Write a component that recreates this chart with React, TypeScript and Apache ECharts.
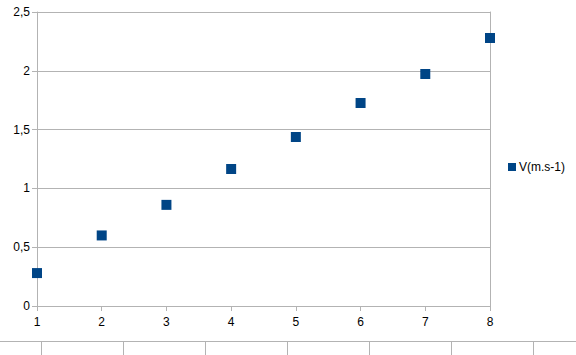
import React, { useEffect, useRef } from "react";
import * as echarts from "echarts";

const xValues = [1, 2, 3, 4, 5, 6, 7, 8];
const vValues = [0.28, 0.6, 0.86, 1.165, 1.437, 1.726, 1.973, 2.279];
const seriesName = "V(m.s-1)";
const bottomTicks = [41, 123, 205, 287, 369, 451, 533];

export default function App() {
  const ref = useRef<HTMLDivElement>(null);
  useEffect(() => {
    if (!ref.current) return;
    const chart = echarts.init(ref.current, null, { renderer: "svg" });
    const gray = "#b3b3b3";
    const font = "Liberation Sans";
    const graphics: any[] = [
      {
        type: "line",
        shape: { x1: 0, y1: 341.5, x2: 576, y2: 341.5 },
        style: { stroke: gray, lineWidth: 1 },
      },
      ...bottomTicks.map((x) => ({
        type: "line",
        shape: { x1: x + 0.5, y1: 341, x2: x + 0.5, y2: 355 },
        style: { stroke: gray, lineWidth: 1 },
      })),
    ];
    chart.setOption({
      animation: false,
      grid: { left: 37, top: 12, width: 453, height: 294, containLabel: false },
      legend: {
        left: 508,
        top: 161,
        padding: 0,
        icon: "rect",
        itemWidth: 8,
        itemHeight: 8,
        itemGap: 3,
        textStyle: { fontFamily: font, fontSize: 12, color: "#000", padding: [0, 0, 0, -2] },
        data: [seriesName],
      },
      xAxis: {
        type: "value",
        min: 1,
        max: 8,
        interval: 1,
        axisLine: { show: true, lineStyle: { color: gray } },
        axisTick: { show: true, length: 5, lineStyle: { color: gray } },
        splitLine: { show: false },
        axisLabel: { fontFamily: font, fontSize: 12, color: "#000", margin: 10 },
      },
      yAxis: [
        {
          type: "value",
          min: 0,
          max: 2.5,
          interval: 0.5,
          axisLine: { show: true, lineStyle: { color: gray } },
          axisTick: { show: true, length: 5, lineStyle: { color: gray } },
          splitLine: { show: true, lineStyle: { color: gray } },
          axisLabel: {
            fontFamily: font,
            fontSize: 12,
            color: "#000",
            margin: 7,
            formatter: (v: number) => String(v).replace(".", ","),
          },
        },
        {
          type: "value",
          position: "right",
          min: 0,
          max: 2.5,
          interval: 0.5,
          axisLine: { show: true, lineStyle: { color: gray } },
          axisTick: { show: false },
          splitLine: { show: false },
          axisLabel: { show: false },
        },
      ],
      series: [
        {
          name: seriesName,
          type: "scatter",
          symbol: "rect",
          symbolSize: 10,
          itemStyle: { color: "#004586", opacity: 1 },
          data: xValues.map((x, i) => [x, vValues[i]]),
        },
      ],
      graphic: graphics,
    });
    return () => chart.dispose();
  }, []);
  return (
    <div ref={ref} style={{ width: 576, height: 355, position: "absolute", left: 0, top: 0 }} />
  );
}
